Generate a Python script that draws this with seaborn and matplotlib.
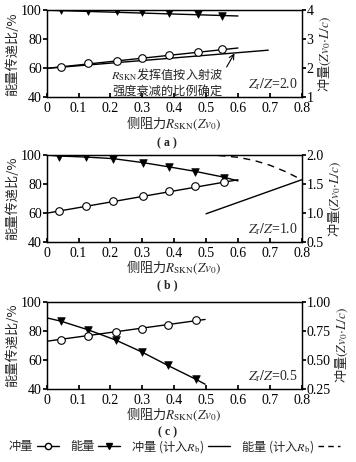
import seaborn as sns
import matplotlib.pyplot as plt
from matplotlib.lines import Line2D
from matplotlib.font_manager import FontProperties

# panel (a)  Zr/Z = 2.0
a_x = [0.045, 0.13, 0.22, 0.30, 0.385, 0.475, 0.55]
a_imp = [2.05, 2.17, 2.27, 2.37, 2.475, 2.57, 2.67]         # right axis
a_eng = [99.8, 99.6, 99.2, 98.7, 98.2, 97.3, 96.3]          # left axis
a_imp_line_x = [0, 0.6]
a_imp_line = [2.0, 2.7]
a_eng_line_x = [0, 0.6]
a_eng_line = [100.0, 96.0]
a_rb_imp_x = [0, 0.695]
a_rb_imp = [2.0, 2.625]

# panel (b)  Zr/Z = 1.0
b_x = [0.04, 0.122, 0.209, 0.301, 0.385, 0.465, 0.555]
b_imp = [1.0375, 1.13, 1.215, 1.30, 1.39, 1.47, 1.535]
b_eng = [98.9, 98.4, 97.3, 94.3, 91.5, 88.5, 84.5]
b_imp_line_x = [0, 0.6]
b_imp_line = [1.0, 1.575]
b_eng_line_x = [0, 0.04, 0.122, 0.209, 0.301, 0.385, 0.465, 0.555, 0.6]
b_eng_line = [100.0, 99.3, 98.6, 97.5, 94.8, 91.8, 88.8, 84.8, 82.2]
b_rb_imp_x = [0.5, 0.8]
b_rb_imp = [0.99, 1.575]
b_rb_eng_x = [0.5, 0.55, 0.6, 0.65, 0.7, 0.75, 0.8]
b_rb_eng = [100.0, 99.5, 98.4, 96.3, 93.0, 88.5, 83.0]

# panel (c)  Zr/Z = 0.5
c_x = [0.045, 0.131, 0.217, 0.298, 0.382, 0.467]
c_imp = [0.674, 0.706, 0.74, 0.766, 0.801, 0.839]
c_eng = [86.8, 80.8, 73.8, 65.7, 56.2, 47.0]
c_imp_line_x = [0, 0.497]
c_imp_line = [0.66, 0.8475]
c_eng_line_x = [0, 0.045, 0.131, 0.217, 0.298, 0.382, 0.467, 0.497]
c_eng_line = [88.9, 86.6, 80.6, 73.6, 65.5, 56.0, 46.8, 43.3]

sns.set_theme(style='ticks')
plt.rcParams['font.family'] = ['Liberation Serif', 'Noto Sans CJK SC']
plt.rcParams['mathtext.fontset'] = 'stix'
plt.rcParams['axes.linewidth'] = 0.9
plt.rcParams['xtick.major.size'] = 3
plt.rcParams['ytick.major.size'] = 3
plt.rcParams['xtick.direction'] = 'in'

cjk = FontProperties(family='Noto Sans CJK SC', size=9.5)
cjk_note = FontProperties(family='Noto Sans CJK SC', size=8.8)
cjk_leg = FontProperties(family='Noto Sans CJK SC', size=8.8)

fig = plt.figure(figsize=(3.56, 4.62), dpi=100)
L, W, H = 0.131, 0.7165, 0.189
tops = [0.978, 0.6645, 0.347]
cap_y = [0.690, 0.383, 0.065]

panels = [
    dict(x=a_x, imp=a_imp, eng=a_eng, il=(a_imp_line_x, a_imp_line), el=(a_eng_line_x, a_eng_line),
         rbi=(a_rb_imp_x, a_rb_imp), rbe=None, rlim=(1, 4), rticks=[1, 2, 3, 4],
         rfmt='{:g}', ratio='2.0', cap='( a )'),
    dict(x=b_x, imp=b_imp, eng=b_eng, il=(b_imp_line_x, b_imp_line), el=(b_eng_line_x, b_eng_line),
         rbi=(b_rb_imp_x, b_rb_imp), rbe=(b_rb_eng_x, b_rb_eng), rlim=(0.5, 2.0),
         rticks=[0.5, 1.0, 1.5, 2.0], rfmt='{:.1f}', ratio='1.0', cap='( b )'),
    dict(x=c_x, imp=c_imp, eng=c_eng, il=(c_imp_line_x, c_imp_line), el=(c_eng_line_x, c_eng_line),
         rbi=None, rbe=None, rlim=(0.25, 1.0), rticks=[0.25, 0.5, 0.75, 1.0],
         rfmt='{:.2f}', ratio='0.5', cap='( c )'),
]

for top, cy, p in zip(tops, cap_y, panels):
    ax = fig.add_axes([L, top - H, W, H])
    ax2 = ax.twinx()
    # energy on left axis
    sns.lineplot(x=p['el'][0], y=p['el'][1], ax=ax, color='black', lw=1)
    sns.scatterplot(x=p['x'], y=p['eng'], ax=ax, marker='v', color='black',
                    s=30, edgecolor='black', linewidth=0.5, zorder=5)
    if p['rbe'] is not None:
        sns.lineplot(x=p['rbe'][0], y=p['rbe'][1], ax=ax, color='black', lw=1,
                     linestyle=(0, (5, 4)))
    # impulse on right axis
    sns.lineplot(x=p['il'][0], y=p['il'][1], ax=ax2, color='black', lw=1)
    sns.scatterplot(x=p['x'], y=p['imp'], ax=ax2, marker='o', color='white',
                    s=30, edgecolor='black', linewidth=0.8, zorder=5)
    if p['rbi'] is not None:
        sns.lineplot(x=p['rbi'][0], y=p['rbi'][1], ax=ax2, color='black', lw=1)

    ax.set_xlim(0, 0.8)
    ax.set_ylim(40, 100)
    ax.set_xticks([0, 0.1, 0.2, 0.3, 0.4, 0.5, 0.6, 0.7, 0.8])
    ax.set_xticklabels(['0', '0.1', '0.2', '0.3', '0.4', '0.5', '0.6', '0.7', '0.8'])
    ax.set_yticks([40, 60, 80, 100])
    ax2.set_ylim(*p['rlim'])
    ax2.set_yticks(p['rticks'])
    ax2.set_yticklabels([p['rfmt'].format(t) for t in p['rticks']])
    for a in (ax, ax2):
        a.tick_params(labelsize=10, pad=1, colors='black')
        for sp in a.spines.values():
            sp.set_color('black')
    ax.tick_params(axis='x', pad=3.5)
    ax.tick_params(axis='y', direction='out', pad=0.5)
    ax2.tick_params(axis='y', direction='out', pad=0.5)

    ax.set_ylabel('能量传递比/%', fontproperties=cjk, labelpad=1)
    ax2.set_ylabel(r'冲量$(Zv_0{\cdot}L/c)$', fontproperties=cjk, rotation=90, labelpad=2)
    ax.set_xlabel(r'侧阻力$R_{\rm SKN}(Zv_0)$', fontproperties=cjk, labelpad=-1)
    ax.text(0.985, 0.06, r'$Z_{\rm r}/Z$=' + p['ratio'], transform=ax.transAxes,
            ha='right', va='bottom', fontsize=10)
    fig.text(0.47, cy, p['cap'], ha='center', va='center', fontsize=8.5,
             fontweight='bold')
    if p['ratio'] == '2.0':
        ax.annotate(r'$R_{\rm SKN}$发挥值按入射波' + '\n' + '强度衰减的比例确定',
                    xy=(0.589, 70.3), xytext=(0.378, 50.5), fontproperties=cjk_note,
                    ha='center', va='center', linespacing=1.25,
                    arrowprops=dict(arrowstyle='->', color='black', lw=0.8,
                                    shrinkA=0, shrinkB=0, relpos=(1.0, 0.8)))

handles = [
    Line2D([], [], color='black', lw=1, marker='o', markerfacecolor='white',
           markeredgecolor='black', markersize=4.5),
    Line2D([], [], color='black', lw=1, marker='v', markerfacecolor='black',
           markeredgecolor='black', markersize=5),
    Line2D([], [], color='black', lw=1),
    Line2D([], [], color='black', lw=1, linestyle=(0, (4, 3))),
]
labels = ['冲量', '能量', r'冲量 (计入$R_{\rm b}$)', r'能量 (计入$R_{\rm b}$)']
fig.legend(handles, labels, loc='center left', bbox_to_anchor=(0.025, 0.034), ncol=4,
           frameon=False, markerfirst=False, prop=cjk_leg, handlelength=1.8,
           handletextpad=0.3, columnspacing=0.9, borderaxespad=0, borderpad=0)

fig.savefig('out.png', dpi=100)
